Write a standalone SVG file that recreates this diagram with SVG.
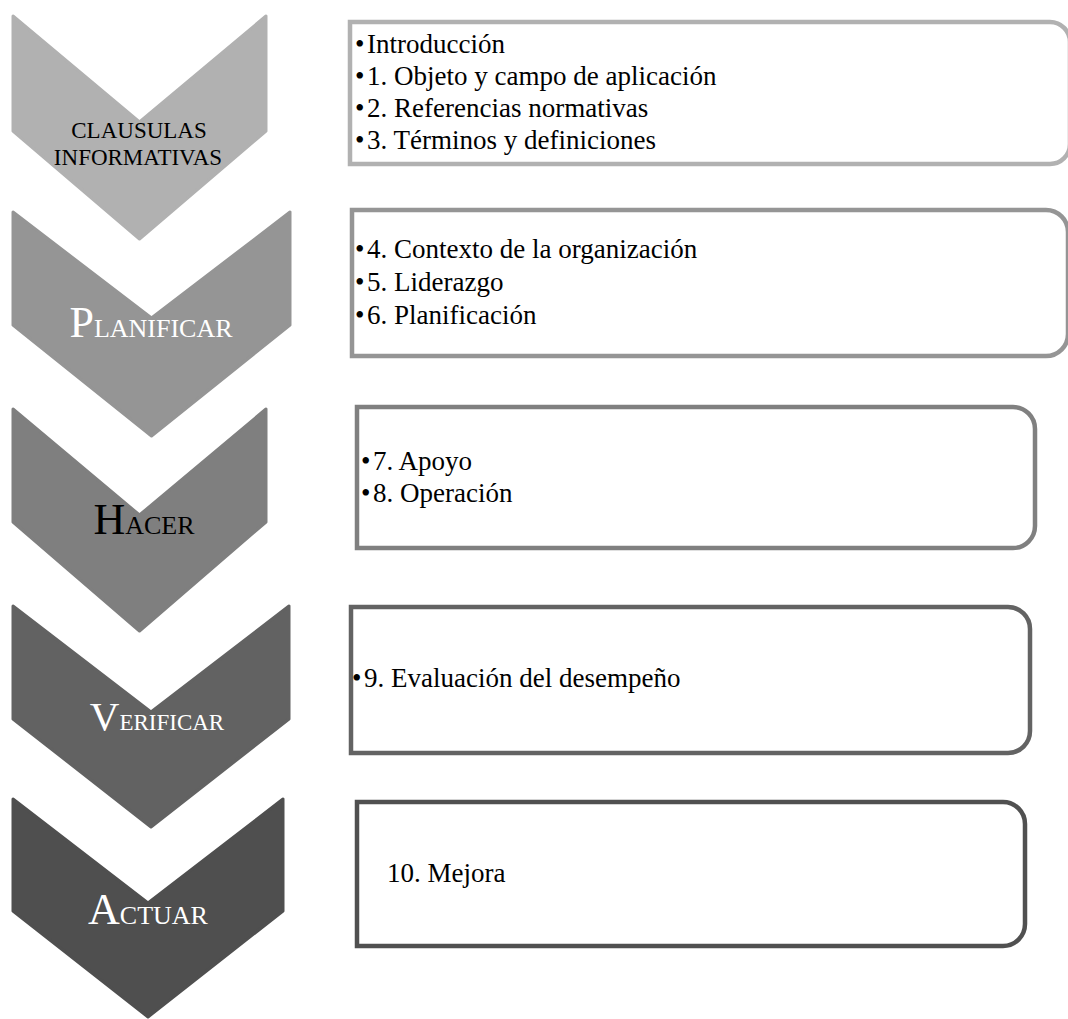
<svg xmlns="http://www.w3.org/2000/svg" width="1068" height="1019" viewBox="0 0 1068 1019">
<style>
.box{fill:#ffffff;stroke-width:4.5}
.chev{stroke-width:3;stroke-linejoin:round}
.t{font-family:"Liberation Serif","Times New Roman",serif;font-size:27px;fill:#000}
.big{font-family:"Liberation Serif","Times New Roman",serif;font-size:44px}
.sm{font-family:"Liberation Serif","Times New Roman",serif;font-size:26px}
.ci{font-family:"Liberation Serif","Times New Roman",serif;font-size:23px;fill:#000}
</style>
<rect width="1068" height="1019" fill="#ffffff"/>
<g id="connectors"></g>
<g id="chev1">
<path class="chev" fill="#b1b1b1" stroke="#b1b1b1" d="M13,16 L139.5,122 L266,16 L266,131 L139.5,239 L13,131 Z"/>
<text class="ci" x="139" y="138" text-anchor="middle">CLAUSULAS</text>
<text class="ci" x="138" y="165" text-anchor="middle">INFORMATIVAS</text>
</g>
<g id="box1">
<path class="box" stroke="#b1b1b1" d="M350,22 H1050 A20,20 0 0 1 1070,42 V144 A20,20 0 0 1 1050,164 H350 Z"/>
<text class="t" x="355" y="53">•</text><text class="t" x="367" y="53">Introducción</text>
<text class="t" x="355" y="85">•</text><text class="t" x="367" y="85">1. Objeto y campo de aplicación</text>
<text class="t" x="355" y="117">•</text><text class="t" x="367" y="117">2. Referencias normativas</text>
<text class="t" x="355" y="149">•</text><text class="t" x="367" y="149">3. Términos y definiciones</text>
</g>
<g id="chev2">
<path class="chev" fill="#959595" stroke="#959595" d="M13,212 L151.5,318 L290,212 L290,325 L151.5,436 L13,325 Z"/>
<text x="151" y="337" text-anchor="middle" fill="#ffffff"><tspan class="big">P</tspan><tspan class="sm">LANIFICAR</tspan></text>
</g>
<g id="box2">
<path class="box" stroke="#959595" d="M352,210 H1046 A22,22 0 0 1 1068,232 V334 A22,22 0 0 1 1046,356 H352 Z"/>
<text class="t" x="355" y="258">•</text><text class="t" x="367" y="258">4. Contexto de la organización</text>
<text class="t" x="355" y="291">•</text><text class="t" x="367" y="291">5. Liderazgo</text>
<text class="t" x="355" y="324">•</text><text class="t" x="367" y="324">6. Planificación</text>
</g>
<g id="chev3">
<path class="chev" fill="#7f7f7f" stroke="#7f7f7f" d="M13,409 L139.5,515 L266,409 L266,522 L139.5,631 L13,522 Z"/>
<text x="144" y="534" text-anchor="middle" fill="#000000"><tspan class="big">H</tspan><tspan class="sm">ACER</tspan></text>
</g>
<g id="box3">
<path class="box" stroke="#808080" d="M357,407 H1013 A22,22 0 0 1 1035,429 V526 A22,22 0 0 1 1013,548 H357 Z"/>
<text class="t" x="361" y="470">•</text><text class="t" x="373" y="470">7. Apoyo</text>
<text class="t" x="361" y="502">•</text><text class="t" x="373" y="502">8. Operación</text>
</g>
<g id="chev4">
<path class="chev" fill="#626262" stroke="#626262" d="M13,606 L151,712 L289,606 L289,719 L151,827 L13,719 Z"/>
<text x="157" y="730" text-anchor="middle" fill="#ffffff"><tspan class="big" style="font-size:41px">V</tspan><tspan class="sm" style="font-size:23px">ERIFICAR</tspan></text>
</g>
<g id="box4">
<path class="box" stroke="#636363" d="M351,607 H1008 A22,22 0 0 1 1030,629 V731 A22,22 0 0 1 1008,753 H351 Z"/>
<text class="t" x="352" y="687">•</text><text class="t" x="364" y="687">9. Evaluación del desempeño</text>
</g>
<g id="chev5">
<path class="chev" fill="#4f4f4f" stroke="#4f4f4f" d="M13,799 L148,903 L283,799 L283,911 L148,1017 L13,911 Z"/>
<text x="148" y="924" text-anchor="middle" fill="#ffffff"><tspan class="big">A</tspan><tspan class="sm">CTUAR</tspan></text>
</g>
<g id="box5">
<path class="box" stroke="#505050" d="M357,802 H1003 A22,22 0 0 1 1025,824 V924 A22,22 0 0 1 1003,946 H357 Z"/>
<text class="t" x="387" y="882">10. Mejora</text>
</g>
</svg>
